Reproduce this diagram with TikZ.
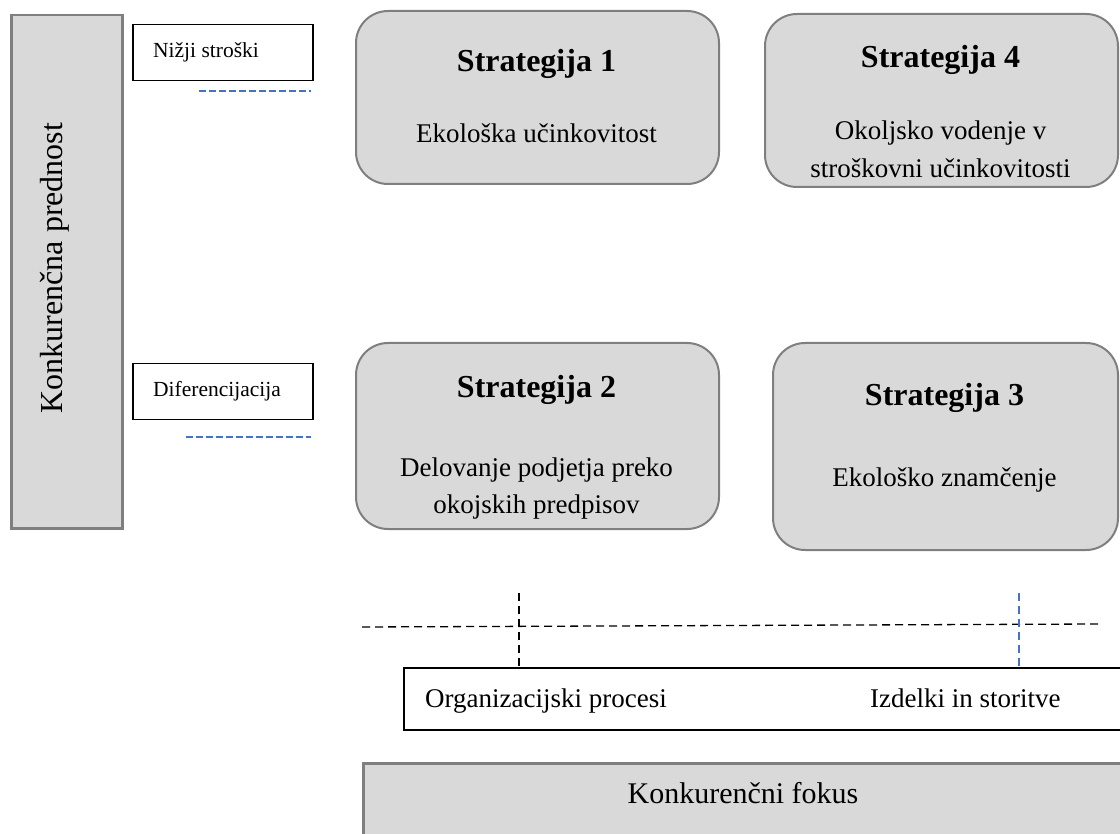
\documentclass[tikz,border=0pt]{standalone}
\usepackage{fontspec}
\setmainfont{Liberation Serif}
\definecolor{boxgray}{HTML}{D9D9D9}
\definecolor{edgegray}{HTML}{7F7F7F}
\definecolor{guideblue}{HTML}{4472C4}

\begin{document}
\begin{tikzpicture}[x=1pt,y=-1pt,
  stratbox/.style={draw=edgegray, line width=2pt, fill=boxgray, rounded corners=32pt, inner sep=0pt, anchor=north west},
  graybox/.style={draw=edgegray, line width=2.5pt, fill=boxgray, inner sep=0pt, anchor=north west},
  labelbox/.style={draw=black, line width=1.5pt, fill=white, inner sep=0pt, anchor=north west},
  titletext/.style={font=\fontsize{32}{38}\selectfont\bfseries, anchor=base, inner sep=0pt},
  bodytext/.style={font=\fontsize{27}{37}\selectfont, anchor=base, inner sep=0pt},
  smalltext/.style={font=\fontsize{21.5}{26}\selectfont, anchor=base west, inner sep=0pt},
  guide/.style={dash pattern=on 8pt off 5pt, line width=1.3pt},
  blueguide/.style={draw=guideblue, dash pattern=on 7pt off 3pt, line width=1.5pt},
]
\useasboundingbox (0,0) rectangle (1120,834);
\clip (0,0) rectangle (1120,834);

% competitive advantage axis
\node[graybox, minimum width=111pt, minimum height=513pt] (axis) at (10,14) {};
\node[font=\fontsize{32}{38}\selectfont, rotate=90, anchor=base, inner sep=0pt] (axistext) at (62,268) {Konkurenčna prednost};

% axis levels
\node[labelbox, minimum width=180pt, minimum height=56pt] (low) at (132,24) {};
\node[smalltext] (lowtext) at (153,58) {Nižji stroški};
\node[labelbox, minimum width=180pt, minimum height=56pt] (diff) at (132,363) {};
\node[smalltext] (difftext) at (153,397) {Diferencijacija};

\coordinate (lowl) at (199,91);
\coordinate (lowr) at (311,91);
\draw[blueguide] (lowl) -- (lowr);
\coordinate (diffl) at (186,437);
\coordinate (diffr) at (311,437);
\draw[blueguide] (diffl) -- (diffr);

% strategies
\node[stratbox, minimum width=363pt, minimum height=173pt] (s1) at (355,10) {};
\node[titletext] (s1t) at (536.5,72) {Strategija 1};
\node[bodytext] (s1a) at (536.5,143) {Ekološka učinkovitost};

\node[stratbox, minimum width=353pt, minimum height=173pt] (s4) at (764,13) {};
\node[titletext] (s4t) at (940.5,68) {Strategija 4};
\node[bodytext] (s4a) at (940.5,140) {Okoljsko vodenje v};
\node[bodytext] (s4b) at (940.5,178) {stroškovni učinkovitosti};

\node[stratbox, minimum width=363pt, minimum height=186pt] (s2) at (355,342) {};
\node[titletext] (s2t) at (536.5,398) {Strategija 2};
\node[bodytext] (s2a) at (536.5,476) {Delovanje podjetja preko};
\node[bodytext] (s2b) at (536.5,513) {okojskih predpisov};

\node[stratbox, minimum width=345pt, minimum height=207pt] (s3) at (772,342) {};
\node[titletext] (s3t) at (944.5,406) {Strategija 3};
\node[bodytext] (s3a) at (944.5,486) {Ekološko znamčenje};

% competitive focus
\node[labelbox, minimum width=730pt, minimum height=62pt] (org) at (403,667) {};
\node[bodytext, anchor=base west] (orgtext) at (425,707) {Organizacijski procesi};
\node[bodytext, anchor=base west] (prodtext) at (870,707) {Izdelki in storitve};

\node[graybox, minimum width=770pt, minimum height=90pt] (focus) at (362,762) {};
\node[font=\fontsize{30}{36}\selectfont, anchor=base, inner sep=0pt] (focustext) at (743,803) {Konkurenčni fokus};

% guide lines
\coordinate (hl) at (362,627);
\coordinate (hr) at (1098,624);
\draw[guide] (hl) -- (hr);
\coordinate (v1) at (519,593);
\draw[guide] (v1) -- (v1 |- org.north);
\coordinate (v2) at (1019,593);
\draw[blueguide, line width=1.2pt, dash pattern=on 8pt off 5pt] (v2) -- (v2 |- org.north);
\end{tikzpicture}
\end{document}
